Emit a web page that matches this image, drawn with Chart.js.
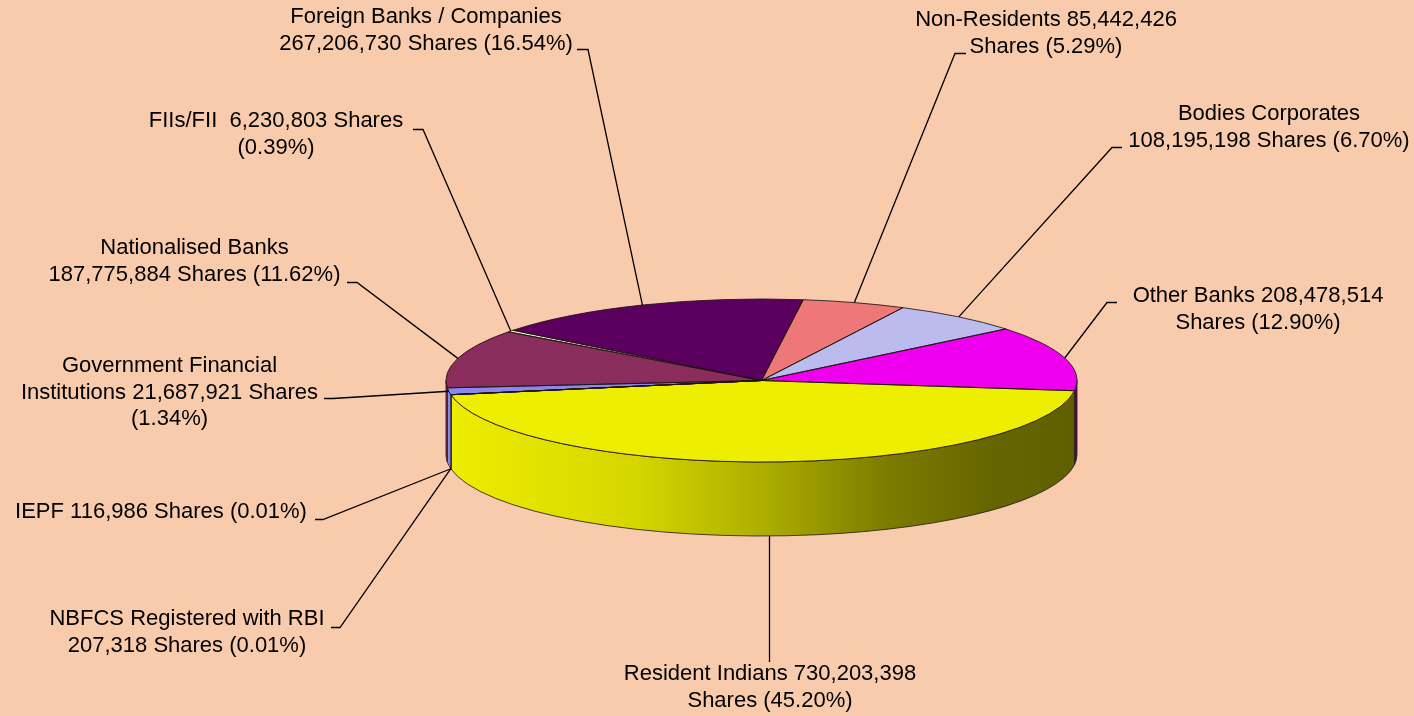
<!DOCTYPE html>
<html><head><meta charset="utf-8">
<script src="https://cdn.jsdelivr.net/npm/chart.js@4.4.0/dist/chart.umd.min.js"></script>
<style>html,body{margin:0;padding:0;background:#F8CBAD;overflow:hidden}canvas{display:block}</style>
</head><body>
<canvas id="c" width="1414" height="716"></canvas>
<script>
// ---- data ----
const categories = ['Non-Residents','Bodies Corporates','Other Banks','Resident Indians','IEPF',
  'NBFCS Registered with RBI','Government Financial Institutions','Nationalised Banks','FIIs/FII','Foreign Banks / Companies'];
const shares = [85442426,108195198,208478514,730203398,116986,207318,21687921,187775884,6230803,267206730];
const percents = [5.29,6.70,12.90,45.20,0.01,0.01,1.34,11.62,0.39,16.54];
const labelLines = [
  ['Non-Residents 85,442,426','Shares (5.29%)'],
  ['Bodies Corporates','108,195,198 Shares (6.70%)'],
  ['Other Banks 208,478,514','Shares (12.90%)'],
  ['Resident Indians 730,203,398','Shares (45.20%)'],
  ['IEPF 116,986 Shares (0.01%)'],
  ['NBFCS Registered with RBI','207,318 Shares (0.01%)'],
  ['Government Financial','Institutions 21,687,921 Shares','(1.34%)'],
  ['Nationalised Banks','187,775,884 Shares (11.62%)'],
  ['FIIs/FII  6,230,803 Shares','(0.39%)'],
  ['Foreign Banks / Companies','267,206,730 Shares (16.54%)']
];
const colors = ['#EE7777','#BBBBEE','#EE00EE','#EEEE00','#00DDDD','#770077','#8888EE','#8B2D5C','#F6F2C8','#5C0060'];

// ---- layout of labels (positions only) ----
const labelPos = [
  {cx:1046, y0:20,  tick:[966,955,53]},
  {cx:1269, y0:114, tick:[1122,1112,147]},
  {cx:1258, y0:296, tick:[1117,1107,302]},
  {cx:770,  y0:674, vertical:662, base:true},
  {cx:161,  y0:512, tick:[315,323,519], base:true},
  {cx:187,  y0:619, tick:[331,340,627], base:true},
  {cx:169.5,y0:366, tick:[324,333,398]},
  {cx:194.5,y0:248, tick:[347,357,282]},
  {cx:276,  y0:121, tick:[413,423,129]},
  {cx:426,  y0:17,  tick:[577,588,49]}
];
const TILT = 81.5/315.5;
const DEPTH = 74;
const LINE_H = 26.5;

function shade(hex, f){
  const n = parseInt(hex.slice(1),16);
  const r = Math.round(((n>>16)&255)*f), g = Math.round(((n>>8)&255)*f), b = Math.round((n&255)*f);
  return `rgb(${r},${g},${b})`;
}

const bg = {
  id:'bg',
  beforeDraw(chart){
    const c = chart.ctx; c.save(); c.fillStyle='#F8CBAD'; c.fillRect(0,0,chart.width,chart.height); c.restore();
  }
};

let geo = null;
const pie3d = {
  id:'pie3d',
  beforeDatasetsDraw(chart){
    const ctx = chart.ctx;
    const arcs = chart.getDatasetMeta(0).data;
    const a0 = arcs[0];
    const cx=a0.x, cy=a0.y, rx=a0.outerRadius, ry=rx*TILT, d=DEPTH;
    geo = {cx,cy,rx,ry,d};
    ctx.save();
    arcs.forEach((arc,i)=>{
      const s = Math.max(arc.startAngle, 0), e = Math.min(arc.endAngle, Math.PI);
      if (e <= s) return;
      const grad = ctx.createLinearGradient(cx-rx,0,cx+rx,0);
      const col = colors[i];
      grad.addColorStop(0, shade(col,1.0));
      grad.addColorStop(0.3, shade(col,0.9));
      grad.addColorStop(0.5, shade(col,0.73));
      grad.addColorStop(0.7, shade(col,0.52));
      grad.addColorStop(0.86, shade(col,0.43));
      grad.addColorStop(1, shade(col,0.4));
      ctx.beginPath();
      ctx.ellipse(cx,cy,rx,ry,0,s,e,false);
      ctx.lineTo(cx+rx*Math.cos(e), cy+d+ry*Math.sin(e));
      ctx.ellipse(cx,cy+d,rx,ry,0,e,s,true);
      ctx.closePath();
      ctx.fillStyle = grad;
      ctx.fill();
      ctx.lineWidth = 1;
      ctx.strokeStyle = 'rgba(40,30,30,0.85)';
      ctx.stroke();
    });
    ctx.restore();
    ctx.save();
    ctx.translate(cx,cy); ctx.scale(1, ry/rx); ctx.translate(-cx,-cy);
  },
  afterDatasetsDraw(chart){
    const ctx = chart.ctx;
    ctx.restore();
    const {cx,cy,rx,ry,d} = geo;
    const arcs = chart.getDatasetMeta(0).data;
    ctx.save();
    ctx.lineWidth = 1;
    ctx.strokeStyle = 'rgba(30,20,20,0.85)';
    arcs.forEach(arc=>{
      ctx.beginPath();
      ctx.moveTo(cx,cy);
      ctx.ellipse(cx,cy,rx,ry,0,arc.startAngle,arc.endAngle,false);
      ctx.closePath();
      ctx.stroke();
    });
    // labels
    ctx.font = '22px "Liberation Sans", Arial, sans-serif';
    ctx.fillStyle = '#000';
    ctx.textAlign = 'center';
    ctx.textBaseline = 'middle';
    ctx.strokeStyle = '#000';
    ctx.lineWidth = 1.3;
    arcs.forEach((arc,i)=>{
      const p = labelPos[i];
      labelLines[i].forEach((ln,k)=>ctx.fillText(ln, p.cx, p.y0 + k*LINE_H));
      const t = (arc.startAngle+arc.endAngle)/2;
      const ax = cx + rx*Math.cos(t);
      const ay = cy + ry*Math.sin(t) + (p.base ? d : 0);
      ctx.beginPath();
      if (p.vertical !== undefined){
        const vx = Math.round(ax)+0.5;
        ctx.moveTo(vx, p.vertical);
        ctx.lineTo(vx, ay);
      } else {
        ctx.moveTo(p.tick[0], p.tick[2]+0.5);
        ctx.lineTo(p.tick[1], p.tick[2]+0.5);
        ctx.lineTo(ax, ay);
      }
      ctx.stroke();
    });
    ctx.restore();
  }
};

new Chart(document.getElementById('c').getContext('2d'), {
  type:'pie',
  data:{labels:categories, datasets:[{data:shares, backgroundColor:colors, borderWidth:0, hoverOffset:0}]},
  options:{
    responsive:false, animation:false, events:[], rotation:7.6,
    layout:{padding:{top:65,bottom:20,left:361,right:252}},
    plugins:{legend:{display:false}, tooltip:{enabled:false}, title:{display:false}}
  },
  plugins:[bg, pie3d]
});
</script>
</body></html>
